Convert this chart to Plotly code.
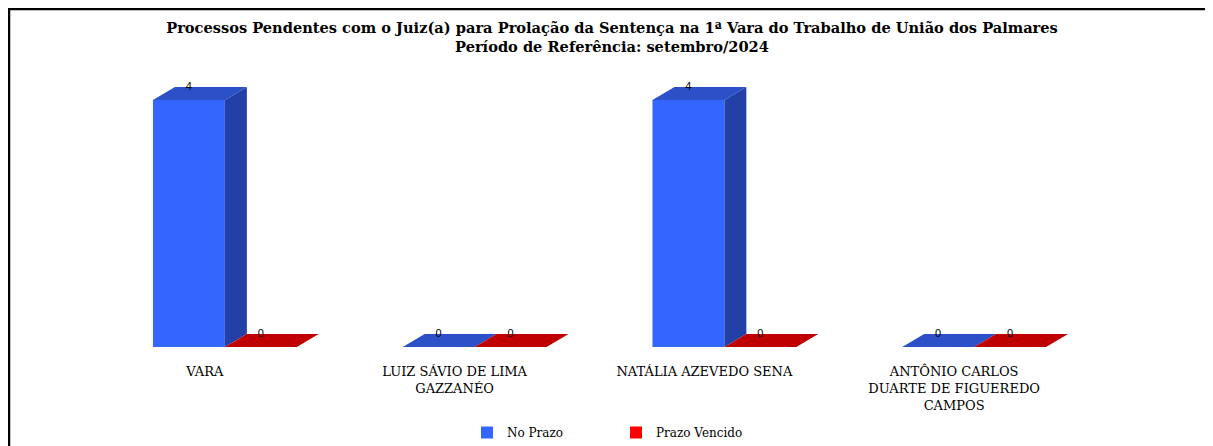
import plotly.graph_objects as go

# ---- data ----
categories = [
    "VARA",
    "LUIZ SÁVIO DE LIMA<br>GAZZANÉO",
    "NATÁLIA AZEVEDO SENA",
    "ANTÔNIO CARLOS<br>DUARTE DE FIGUEREDO<br>CAMPOS",
]
no_prazo = [4, 0, 4, 0]
prazo_vencido = [0, 0, 0, 0]
series_names = ["No Prazo", "Prazo Vencido"]

title_text = ("<b>Processos Pendentes com o Juiz(a) para Prolação da Sentença na 1ª Vara do "
              "Trabalho de União dos Palmares<br>Período de Referência: setembro/2024</b>")

# ---- style / geometry (data units) ----
BAR_W = 0.288      # width of each bar front face
DEPTH_X = 0.088    # 3D depth offset, x
DEPTH_Y = 0.21     # 3D depth offset, y
LABEL_SHIFT = -0.08

front_colors = ["#3366FF", "#FF0000"]
top_colors = ["#2B50C8", "#C00000"]
side_colors = ["#2340A6", "#A00000"]

SERIF = "DejaVu Serif, Liberation Serif, serif"

xs = list(range(len(categories)))
series = [no_prazo, prazo_vencido]
offsets = [-BAR_W, 0.0]

fig = go.Figure()

for s, (vals, off) in enumerate(zip(series, offsets)):
    # front faces
    fig.add_trace(go.Bar(
        x=xs, y=vals, offset=off, width=BAR_W, name=series_names[s],
        marker=dict(color=front_colors[s], line=dict(width=0)),
        hoverinfo="skip", showlegend=True,
    ))
    # side and top faces
    sx, sy = [], []
    tx, ty = [], []
    for x, v in zip(xs, vals):
        x0 = x + off
        x1 = x0 + BAR_W
        sx += [x1, x1 + DEPTH_X, x1 + DEPTH_X, x1, x1, None]
        sy += [0, DEPTH_Y, v + DEPTH_Y, v, 0, None]
        tx += [x0, x0 + DEPTH_X, x1 + DEPTH_X, x1, x0, None]
        ty += [v, v + DEPTH_Y, v + DEPTH_Y, v, v, None]
    fig.add_trace(go.Scatter(
        x=sx, y=sy, mode="lines", fill="toself", fillcolor=side_colors[s],
        line=dict(width=0, color=side_colors[s]), hoverinfo="skip", showlegend=False,
    ))
    fig.add_trace(go.Scatter(
        x=tx, y=ty, mode="lines", fill="toself", fillcolor=top_colors[s],
        line=dict(width=0, color=top_colors[s]), hoverinfo="skip", showlegend=False,
    ))

# data labels
for s, (vals, off) in enumerate(zip(series, offsets)):
    fig.add_trace(go.Scatter(
        x=[x + off + BAR_W / 2 for x in xs],
        y=[v + DEPTH_Y for v in vals],
        mode="text", text=[str(v) for v in vals], textposition="middle center",
        textfont=dict(family="Liberation Sans, Arial", size=11, color="#000000"),
        hoverinfo="skip", showlegend=False,
    ))

W, H = 1213, 446
ml, mr, mt, mb = 92, 122, 61, 107
pw = W - ml - mr
ph = H - mt - mb

def px_to_paper_x(px):
    return (px - ml) / pw

def px_to_paper_y(py):
    return (H - mb - py) / ph

fig.update_layout(
    width=W, height=H,
    margin=dict(l=ml, r=mr, t=mt, b=mb, autoexpand=False),
    paper_bgcolor="white", plot_bgcolor="white",
    barmode="overlay",
    title=dict(text=title_text, x=604 / W, xanchor="center", xref="container",
               y=1 - 25 / H, yanchor="top", yref="container",
               font=dict(family=SERIF, size=14.6, color="#000000")),
    xaxis=dict(range=[-0.5, 3.5], tickvals=[x + LABEL_SHIFT for x in xs], ticktext=categories,
               showgrid=False, zeroline=False, showline=False, ticks="",
               ticklabelstandoff=15,
               tickfont=dict(family=SERIF, size=13, color="#000000")),
    yaxis=dict(range=[0, 4.5], showgrid=False, zeroline=False, showline=False,
               showticklabels=False, ticks=""),
    legend=dict(orientation="h", x=px_to_paper_x(459), xanchor="left",
                y=px_to_paper_y(410), yanchor="top",
                font=dict(family=SERIF, size=12, color="#000000"),
                traceorder="normal", entrywidth=104, entrywidthmode="pixels"),
    showlegend=True,
)

# chart frame (left and top border)
fig.add_shape(type="line", xref="paper", yref="paper",
              x0=px_to_paper_x(1), x1=px_to_paper_x(1),
              y0=px_to_paper_y(0), y1=px_to_paper_y(H + 5),
              line=dict(color="black", width=2.5))
fig.add_shape(type="line", xref="paper", yref="paper",
              x0=px_to_paper_x(0), x1=px_to_paper_x(W + 5),
              y0=px_to_paper_y(1), y1=px_to_paper_y(1),
              line=dict(color="black", width=2.5))

fig.write_html("out.html")
